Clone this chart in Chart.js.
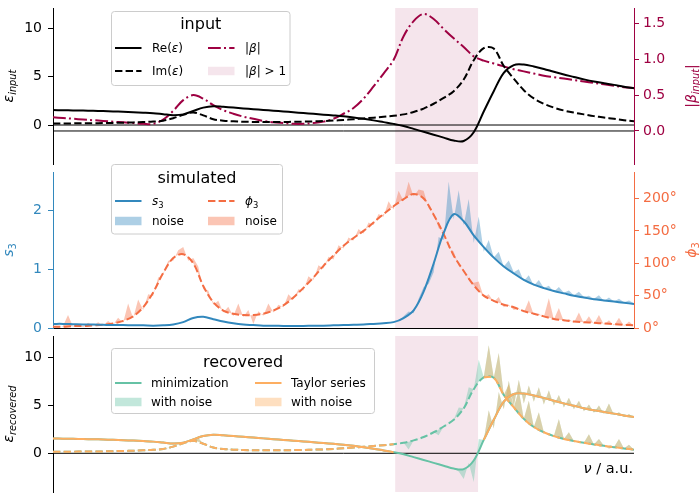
<!DOCTYPE html>
<html>
<head>
<meta charset="utf-8">
<script src="https://cdn.jsdelivr.net/npm/chart.js@4"></script>
<style>
  body { margin: 0; background: #fff; }
  #wrap { position: relative; width: 700px; height: 500px; }
  canvas { position: absolute; left: 0; top: 0; }
</style>
</head>
<body>
<div id="wrap">
  <canvas id="c1" width="700" height="500"></canvas>
  <canvas id="c2" width="700" height="500"></canvas>
  <canvas id="c3" width="700" height="500"></canvas>
</div>
<script>
// frequency grids (a.u.)
const nu = Array.from({length: 59}, (_, i) => i);
const nuFine = Array.from({length: 117}, (_, j) => j / 2);
const nuEnds = [0, 58];
const zeroLine = [0, 0];
// where |beta| > 1
const betaRegion = [34.15, 42.45];

// input
const epsRe = [1.55,1.53,1.51,1.49,1.47,1.44,1.41,1.37,1.33,1.28,1.22,
  1.12,1.02,1.1,1.45,1.8,1.95,1.88,1.8,1.72,1.64,
  1.56,1.48,1.4,1.32,1.24,1.16,1.07,0.99,0.9,0.78,
  0.64,0.48,0.3,0.12,-0.1,-0.4,-0.7,-1.0,-1.3,-1.6,
  -1.65,-0.75,1.4,3.5,5.4,6.2,6.25,6.05,5.8,5.5,
  5.22,4.97,4.72,4.5,4.32,4.15,3.95,3.8];
const epsIm = [0.15,0.16,0.17,0.18,0.19,0.2,0.22,0.24,0.27,0.31,0.36,
  0.45,0.7,1.05,1.3,1.0,0.6,0.45,0.38,0.34,0.32,
  0.31,0.31,0.32,0.33,0.35,0.38,0.41,0.46,0.52,0.6,
  0.68,0.76,0.85,0.95,1.1,1.35,1.7,2.2,2.8,3.5,
  4.7,6.7,7.95,7.9,6.1,4.8,3.6,2.75,2.2,1.8,
  1.5,1.28,1.1,0.92,0.78,0.64,0.5,0.38];
const betaAbs = [0.19,0.18,0.17,0.16,0.15,0.14,0.13,0.12,0.11,0.1,0.1,
  0.16,0.28,0.43,0.5,0.45,0.36,0.29,0.24,0.2,0.17,
  0.14,0.12,0.11,0.1,0.1,0.11,0.13,0.17,0.24,0.32,
  0.45,0.62,0.8,0.99,1.32,1.53,1.63,1.56,1.42,1.29,
  1.17,1.04,0.98,0.94,0.9,0.86,0.83,0.8,0.77,0.75,
  0.73,0.71,0.69,0.67,0.65,0.63,0.61,0.6];

// simulated
const s3 = [0.07,0.07,0.065,0.06,0.06,0.055,0.05,0.05,0.045,0.045,0.04,
  0.045,0.06,0.1,0.17,0.19,0.15,0.11,0.08,0.06,0.05,
  0.04,0.04,0.035,0.035,0.035,0.04,0.04,0.045,0.05,0.055,
  0.06,0.07,0.08,0.1,0.17,0.3,0.62,1.1,1.62,1.94,
  1.82,1.58,1.38,1.2,1.05,0.93,0.82,0.74,0.68,0.63,
  0.59,0.55,0.52,0.49,0.47,0.45,0.43,0.41];
const phi3 = [2,2,3,3,4,5,7,11,18,32,55,
  85,108,114,100,65,40,27,22,20,20,
  22,27,35,47,62,78,96,112,127,139,
  150,163,176,188,199,207,200,175,145,112,
  88,66,50,42,36,32,26,22,18,14,
  12,10,9,8,7,6,5,4];
const s3Noisy = [0.07,0.07,0.07,0.07,0.065,0.06,0.06,0.06,0.06,0.055,
  0.055,0.05,0.05,0.05,0.05,0.045,0.045,0.045,0.045,0.04,
  0.04,0.04,0.045,0.05,0.06,0.08,0.1,0.14,0.17,0.2,
  0.19,0.17,0.15,0.13,0.11,0.09,0.08,0.07,0.06,0.055,
  0.05,0.045,0.04,0.04,0.04,0.04,0.035,0.035,0.035,0.035,
  0.035,0.035,0.035,0.04,0.04,0.04,0.04,0.045,0.045,0.05,
  0.05,0.055,0.055,0.06,0.07,0.075,0.08,0.09,0.1,0.13,
  0.2,0.28,0.25,0.5,0.7,0.75,0.95,1.55,1.5,2.5,
  1.85,2.35,1.75,2.2,1.45,1.9,1.3,1.5,1.2,1.3,
  1.05,1.15,0.95,1.0,0.8,0.9,0.72,0.82,0.68,0.72,
  0.62,0.7,0.6,0.64,0.56,0.62,0.53,0.55,0.5,0.56,
  0.46,0.52,0.45,0.5,0.44,0.47,0.42];
const phi3Noisy = [2,0,3,20,2,6,1,8,3,9,
  4,11,5,16,8,38,15,44,28,52,
  50,78,82,104,104,120,125,104,108,95,
  60,58,36,42,24,33,18,38,17,28,
  6,26,19,38,24,36,32,52,44,60,
  58,80,74,97,92,110,106,128,123,140,
  135,153,146,163,159,176,172,196,183,212,
  196,226,203,214,212,185,178,154,150,124,
  118,96,90,74,70,72,48,52,40,48,
  32,36,28,30,24,43,20,22,17,46,
  13,31,10,14,8,24,7,18,6,20,
  5,12,4,16,3,10,3];

// recovered, with noise
const recReNoisy = [1.55,1.54,1.53,1.52,1.51,1.5,1.49,1.48,1.47,1.45,
  1.44,1.42,1.41,1.39,1.37,1.35,1.33,1.3,1.28,1.25,
  1.22,1.17,1.12,1.07,1.02,1.0,1.1,1.25,1.45,1.75,
  1.8,1.95,1.95,1.92,1.88,1.84,1.8,1.76,1.72,1.68,
  1.64,1.6,1.56,1.52,1.48,1.44,1.4,1.36,1.32,1.28,
  1.24,1.2,1.16,1.12,1.07,1.03,0.99,0.95,0.9,0.84,
  0.78,0.71,0.64,0.56,0.48,0.39,0.3,0.21,0.12,0.0,
  -0.1,-0.25,-0.4,-0.55,-0.7,-0.85,-1.0,-1.15,-1.3,-1.45,
  -1.6,-1.9,-2.7,-1.0,-3.0,1.5,1.4,4.5,2.6,6.4,
  4.6,7.6,4.9,7.7,5.2,7.1,5.4,6.9,5.1,6.6,
  5.0,6.1,4.8,5.8,4.6,5.5,4.4,5.1,4.25,5.0,
  4.1,5.2,4.0,4.3,3.8,4.1,3.7];
const recImNoisy = [0.15,0.15,0.16,0.16,0.17,0.17,0.18,0.18,0.19,0.19,
  0.2,0.21,0.22,0.23,0.24,0.25,0.27,0.29,0.31,0.33,
  0.36,0.4,0.45,0.55,0.7,0.87,1.05,1.2,1.3,1.6,
  1.0,0.8,0.6,0.52,0.45,0.41,0.38,0.36,0.34,0.33,
  0.32,0.31,0.31,0.31,0.31,0.31,0.32,0.32,0.33,0.34,
  0.35,0.36,0.38,0.39,0.41,0.43,0.46,0.49,0.52,0.56,
  0.6,0.64,0.68,0.72,0.76,0.8,0.85,0.9,0.95,1.02,
  1.1,0.4,1.35,1.5,1.7,1.95,2.2,1.9,2.8,3.1,
  3.5,4.8,4.7,6.9,6.7,9.8,7.95,11.3,7.9,10.5,
  6.1,7.2,4.8,6.6,3.6,5.5,2.75,4.3,2.2,2.0,
  1.8,3.6,1.5,2.2,1.28,1.1,1.1,2.0,0.92,1.5,
  0.78,0.5,0.64,1.5,0.5,0.9,0.38];

const crimson = '#9e0142', orange = '#f46d43', blue = '#3288bd', green = '#66c2a5', tay = '#fdae61';
const dashed = [7.4, 3.2], dashdot = [12.8, 3.2, 2, 3.2];

function rgba(hex, a) {
  const n = parseInt(hex.slice(1), 16);
  return `rgba(${n >> 16},${(n >> 8) & 255},${n & 255},${a})`;
}
// Taylor series is not used where |beta| > 1
function outsideBeta(xs, ys) {
  return ys.map((v, k) => (xs[k] > betaRegion[0] && xs[k] < betaRegion[1]) ? null : v);
}
function line(xs, ys, color, axis, extra) {
  return Object.assign({
    data: xs.map((x, k) => ({x: x, y: ys[k]})),
    yAxisID: axis, borderColor: color, backgroundColor: color,
    borderWidth: 2, pointRadius: 0, tension: 0.35, fill: false, spanGaps: false
  }, extra);
}
function noise(xs, ys, color, axis, target) {
  return line(xs, ys, 'rgba(0,0,0,0)', axis, {
    borderWidth: 0, tension: 0, fill: {target: target}, backgroundColor: rgba(color, 0.4)
  });
}
function shade() {
  return {
    data: betaRegion.map(x => ({x: x, y: 1})), yAxisID: 'yb',
    borderWidth: 0, borderColor: 'rgba(0,0,0,0)', pointRadius: 0,
    fill: 'start', backgroundColor: rgba(crimson, 0.1)
  };
}

function font(sz, it) { return (it ? 'italic ' : '') + sz + 'px "DejaVu Sans"'; }
function partsWidth(ctx, parts, sz) {
  let w = 0;
  parts.forEach(p => { ctx.font = font(p.sub ? sz * 0.7 : sz, p.it); w += ctx.measureText(p.t).width; });
  return w;
}
function drawParts(ctx, parts, x, y, sz) {
  parts.forEach(p => {
    ctx.font = font(p.sub ? sz * 0.7 : sz, p.it);
    ctx.fillText(p.t, x, y + (p.sub ? sz * 0.22 : 0));
    x += ctx.measureText(p.t).width;
  });
}

const decor = {
  id: 'decor',
  afterDraw(chart, args, o) {
    const ctx = chart.ctx;
    ctx.save();
    ctx.textAlign = 'left';
    ctx.textBaseline = 'alphabetic';
    (o.ylabels || []).forEach(l => {
      ctx.save();
      ctx.translate(l.x, l.y);
      ctx.rotate(-Math.PI / 2);
      ctx.fillStyle = l.color;
      const w = partsWidth(ctx, l.parts, 14);
      drawParts(ctx, l.parts, -w / 2, 0, 14);
      ctx.restore();
    });
    if (o.xlabel) {
      ctx.fillStyle = '#000';
      const w = partsWidth(ctx, o.xlabel.parts, 14.5);
      drawParts(ctx, o.xlabel.parts, o.xlabel.x - w, o.xlabel.y, 14.5);
    }
    const L = o.legend;
    if (L) {
      const [bx, by, bw, bh] = L.box;
      ctx.beginPath();
      ctx.roundRect(bx, by, bw, bh, 3);
      ctx.fillStyle = 'rgba(255,255,255,0.8)';
      ctx.fill();
      ctx.strokeStyle = '#cccccc';
      ctx.lineWidth = 1;
      ctx.stroke();
      ctx.fillStyle = '#000';
      ctx.font = font(16);
      ctx.textAlign = 'center';
      ctx.fillText(L.title, bx + bw / 2, L.titleY);
      ctx.textAlign = 'left';
      L.items.forEach(it => {
        if (it.kind === 'box') {
          ctx.fillStyle = it.color;
          ctx.fillRect(it.x, it.y - 4.25, 26.5, 8.5);
        } else {
          ctx.beginPath();
          ctx.setLineDash(it.dash || []);
          ctx.strokeStyle = it.color;
          ctx.lineWidth = 2;
          ctx.moveTo(it.x, it.y);
          ctx.lineTo(it.x + 26.5, it.y);
          ctx.stroke();
          ctx.setLineDash([]);
        }
        ctx.fillStyle = '#000';
        drawParts(ctx, it.label, it.x + L.dx, it.y + 4, 12);
      });
    }
    ctx.restore();
  }
};

Chart.defaults.font.family = '"DejaVu Sans", sans-serif';
Chart.defaults.font.size = 14;

function yAxis(pos, min, max, step, color, fmt) {
  return {
    position: pos, min: min, max: max,
    afterFit: s => {
      s.width = pos === 'left' ? 53 : 66;
      s.paddingTop = 0;
      s.paddingBottom = 0;
    },
    border: {display: true, color: color, width: 1},
    grid: {display: true, drawOnChartArea: false, drawTicks: true, tickLength: 5, tickColor: color, tickWidth: 1},
    ticks: {stepSize: step, includeBounds: false, color: color, padding: pos === 'left' ? 6 : 4,
      font: {size: 14}, callback: fmt || (v => v)}
  };
}
const hidden01 = {display: false, min: 0, max: 1};
const xHidden = {type: 'linear', min: 0, max: 58, display: false};

function options(top, bottom, right, scales, decorCfg) {
  return {
    responsive: false, animation: false, events: [],
    layout: {padding: {top: top, bottom: bottom, left: 0, right: right}},
    scales: scales,
    plugins: {legend: {display: false}, tooltip: {enabled: false}, decor: decorCfg}
  };
}

// panel 1: input
new Chart(document.getElementById('c1'), {
  type: 'line',
  data: {datasets: [
    line(nu, epsRe, '#000', 'y'),
    line(nu, epsIm, '#000', 'y', {borderDash: dashed}),
    line(nu, betaAbs, crimson, 'y2', {borderDash: dashdot}),
    line(nuEnds, zeroLine, '#000', 'y', {borderWidth: 1, tension: 0}),
    line(nuEnds, zeroLine, '#000', 'y2', {borderWidth: 1, tension: 0}),
    shade()
  ]},
  options: options(8, 336, 0, {
    x: xHidden,
    y: yAxis('left', -4.03, 12.1, 5, '#000'),
    y2: yAxis('right', -0.46, 1.713, 0.5, crimson, v => v.toFixed(1)),
    yb: hidden01
  }, {
    ylabels: [
      {x: 13, y: 86, color: '#000', parts: [{t: 'ε', it: 1}, {t: 'input', it: 1, sub: 1}]},
      {x: 696, y: 86, color: crimson, parts: [{t: '|'}, {t: 'β', it: 1}, {t: 'input', it: 1, sub: 1}, {t: '|'}]}
    ],
    legend: {
      box: [111.5, 11.5, 178.5, 74], title: 'input', titleY: 29, dx: 37,
      items: [
        {x: 115, y: 48, color: '#000', label: [{t: 'Re('}, {t: 'ε', it: 1}, {t: ')'}]},
        {x: 115, y: 71, color: '#000', dash: dashed, label: [{t: 'Im('}, {t: 'ε', it: 1}, {t: ')'}]},
        {x: 208, y: 48, color: crimson, dash: dashdot, label: [{t: '|'}, {t: 'β', it: 1}, {t: '|'}]},
        {x: 208, y: 71, kind: 'box', color: rgba(crimson, 0.1), label: [{t: '|'}, {t: 'β', it: 1}, {t: '| > 1'}]}
      ]
    }
  }),
  plugins: [decor]
});

// panel 2: simulated
new Chart(document.getElementById('c2'), {
  type: 'line',
  data: {datasets: [
    line(nu, s3, blue, 'y'),
    noise(nuFine, s3Noisy, blue, 'y', 0),
    line(nu, phi3, orange, 'y2', {borderDash: dashed}),
    noise(nuFine, phi3Noisy, orange, 'y2', 2),
    shade()
  ]},
  options: options(172, 172, 0, {
    x: {type: 'linear', min: 0, max: 58, afterFit: s => { s.height = 0; },
      ticks: {display: false}, grid: {display: false}, border: {display: true, color: '#000', width: 1}},
    y: yAxis('left', 0, 2.66, 1, blue),
    y2: yAxis('right', 0, 241, 50, orange, v => v + '°'),
    yb: hidden01
  }, {
    ylabels: [
      {x: 13, y: 250, color: blue, parts: [{t: 's', it: 1}, {t: '3', sub: 1}]},
      {x: 696, y: 250, color: orange, parts: [{t: 'ϕ', it: 1}, {t: '3', sub: 1}]}
    ],
    legend: {
      box: [111.5, 164.5, 171, 69.5], title: 'simulated', titleY: 183, dx: 37,
      items: [
        {x: 115, y: 201, color: blue, label: [{t: 's', it: 1}, {t: '3', sub: 1}]},
        {x: 115, y: 221, kind: 'box', color: rgba(blue, 0.4), label: [{t: 'noise'}]},
        {x: 208, y: 201, color: orange, dash: dashed, label: [{t: 'ϕ', it: 1}, {t: '3', sub: 1}]},
        {x: 208, y: 221, kind: 'box', color: rgba(orange, 0.4), label: [{t: 'noise'}]}
      ]
    }
  }),
  plugins: [decor]
});

// panel 3: recovered
new Chart(document.getElementById('c3'), {
  type: 'line',
  data: {datasets: [
    line(nu, outsideBeta(nu, epsRe), tay, 'y'),
    line(nu, outsideBeta(nu, epsIm), tay, 'y', {borderDash: dashed}),
    line(nu, epsRe, green, 'y'),
    line(nu, epsIm, green, 'y', {borderDash: dashed}),
    noise(nuFine, outsideBeta(nuFine, recReNoisy), tay, 'y', 0),
    noise(nuFine, outsideBeta(nuFine, recImNoisy), tay, 'y', 1),
    noise(nuFine, recReNoisy, green, 'y', 2),
    noise(nuFine, recImNoisy, green, 'y', 3),
    line(nuEnds, zeroLine, '#000', 'y', {borderWidth: 1, tension: 0}),
    shade()
  ]},
  options: options(336, 8, 66, {
    x: xHidden,
    y: yAxis('left', -4.05, 12.27, 5, '#000'),
    yb: hidden01
  }, {
    ylabels: [
      {x: 13, y: 414, color: '#000', parts: [{t: 'ε', it: 1}, {t: 'recovered', it: 1, sub: 1}]}
    ],
    xlabel: {x: 633, y: 473, parts: [{t: 'ν', it: 1}, {t: ' / a.u.'}]},
    legend: {
      box: [111.5, 348.5, 263, 65], title: 'recovered', titleY: 367, dx: 36,
      items: [
        {x: 115, y: 383, color: green, label: [{t: 'minimization'}]},
        {x: 115, y: 402, kind: 'box', color: rgba(green, 0.4), label: [{t: 'with noise'}]},
        {x: 255, y: 383, color: tay, label: [{t: 'Taylor series'}]},
        {x: 255, y: 402, kind: 'box', color: rgba(tay, 0.4), label: [{t: 'with noise'}]}
      ]
    }
  }),
  plugins: [decor]
});
</script>
</body>
</html>
